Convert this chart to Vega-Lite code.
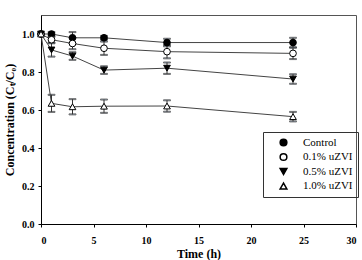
{
  "$schema": "https://vega.github.io/schema/vega-lite/v6.json",
  "autosize": "none",
  "width": 315,
  "height": 209,
  "padding": {"left": 41, "top": 15, "right": 6, "bottom": 36},
  "background": "white",
  "config": {
    "font": "Liberation Serif",
    "view": {"stroke": "#555", "strokeWidth": 1},
    "axis": {
      "grid": false,
      "domainColor": "black",
      "tickColor": "black",
      "tickSize": 3,
      "labelFont": "Liberation Serif",
      "labelFontWeight": "bold",
      "labelFontSize": 10,
      "labelColor": "black",
      "titleFont": "Liberation Serif",
      "titleFontWeight": "bold",
      "titleFontSize": 12,
      "titleColor": "black"
    }
  },
  "data": {
    "values": [
      {"time": 0, "group": "Control", "mean": 1.0, "err": 0.0},
      {"time": 1, "group": "Control", "mean": 1.0, "err": 0.01},
      {"time": 3, "group": "Control", "mean": 0.98, "err": 0.03},
      {"time": 6, "group": "Control", "mean": 0.98, "err": 0.01},
      {"time": 12, "group": "Control", "mean": 0.955, "err": 0.02},
      {"time": 24, "group": "Control", "mean": 0.955, "err": 0.025},
      {"time": 0, "group": "0.1% uZVI", "mean": 1.0, "err": 0.0},
      {"time": 1, "group": "0.1% uZVI", "mean": 0.97, "err": 0.015},
      {"time": 3, "group": "0.1% uZVI", "mean": 0.95, "err": 0.03},
      {"time": 6, "group": "0.1% uZVI", "mean": 0.925, "err": 0.035},
      {"time": 12, "group": "0.1% uZVI", "mean": 0.907, "err": 0.035},
      {"time": 24, "group": "0.1% uZVI", "mean": 0.898, "err": 0.03},
      {"time": 0, "group": "0.5% uZVI", "mean": 1.0, "err": 0.0},
      {"time": 1, "group": "0.5% uZVI", "mean": 0.916, "err": 0.035},
      {"time": 3, "group": "0.5% uZVI", "mean": 0.884, "err": 0.02},
      {"time": 6, "group": "0.5% uZVI", "mean": 0.81, "err": 0.02},
      {"time": 12, "group": "0.5% uZVI", "mean": 0.82, "err": 0.03},
      {"time": 24, "group": "0.5% uZVI", "mean": 0.763, "err": 0.025},
      {"time": 0, "group": "1.0% uZVI", "mean": 1.0, "err": 0.0},
      {"time": 1, "group": "1.0% uZVI", "mean": 0.635, "err": 0.045},
      {"time": 3, "group": "1.0% uZVI", "mean": 0.617, "err": 0.04},
      {"time": 6, "group": "1.0% uZVI", "mean": 0.62, "err": 0.035},
      {"time": 12, "group": "1.0% uZVI", "mean": 0.621, "err": 0.03},
      {"time": 24, "group": "1.0% uZVI", "mean": 0.565, "err": 0.025}
    ]
  },
  "encoding": {
    "x": {
      "field": "time",
      "type": "quantitative",
      "title": "Time (h)",
      "scale": {"domain": [0, 30], "nice": false},
      "axis": {"values": [0, 5, 10, 15, 20, 25, 30], "labelPadding": 8, "titlePadding": 3}
    },
    "y": {
      "field": "mean",
      "type": "quantitative",
      "title": "Concentration (Cₜ/C₀)",
      "scale": {"domain": [0, 1.1], "nice": false},
      "axis": {"values": [0, 0.2, 0.4, 0.6, 0.8, 1.0], "format": ".1f", "labelPadding": 4, "titlePadding": 5}
    }
  },
  "layer": [
    {
      "mark": {"type": "line", "stroke": "#444", "strokeWidth": 1},
      "encoding": {"detail": {"field": "group"}}
    },
    {
      "mark": {"type": "errorbar", "ticks": {"size": 7, "stroke": "#333"}, "rule": {"stroke": "#333"}},
      "encoding": {
        "yError": {"field": "err"},
        "detail": {"field": "group"}
      }
    },
    {
      "mark": {"type": "point", "filled": true, "size": 45, "strokeWidth": 1, "opacity": 1},
      "encoding": {
        "fill": {
          "field": "group",
          "type": "nominal",
          "title": null,
          "scale": {
            "domain": ["Control", "0.1% uZVI", "0.5% uZVI", "1.0% uZVI"],
            "range": ["black", "white", "black", "white"]
          },
          "legend": {
            "orient": "none",
            "legendX": 222,
            "legendY": 117,
            "strokeColor": "#333",
            "padding": 5,
            "rowPadding": 1.5,
            "labelOffset": 14,
            "labelFont": "Liberation Serif",
            "labelFontSize": 11,
            "labelColor": "black",
            "symbolSize": 45,
            "symbolOffset": 10,
            "encode": {
              "symbols": {
                "shape": {
                  "value": {
                    "expr": "datum.value === '0.5% uZVI' ? 'M-3.4,0L-1,0M1,0L3.4,0M-1,-0.8L1,-0.8L0,0.9Z' : datum.value === '1.0% uZVI' ? 'M-3.4,0L-1,0M1,0L3.4,0M0,-0.9L1,0.8L-1,0.8Z' : 'M-3.4,0L-1,0M1,0L3.4,0M-1,0A1,1,0,1,0,1,0A1,1,0,1,0,-1,0Z'"
                  }
                }
              }
            }
          }
        },
        "shape": {
          "field": "group",
          "type": "nominal",
          "title": null,
          "scale": {
            "domain": ["Control", "0.1% uZVI", "0.5% uZVI", "1.0% uZVI"],
            "range": ["circle", "circle", "triangle-down", "triangle-up"]
          }
        },
        "stroke": {
          "field": "group",
          "type": "nominal",
          "title": null,
          "scale": {
            "domain": ["Control", "0.1% uZVI", "0.5% uZVI", "1.0% uZVI"],
            "range": ["black", "black", "black", "black"]
          }
        }
      }
    }
  ]
}
